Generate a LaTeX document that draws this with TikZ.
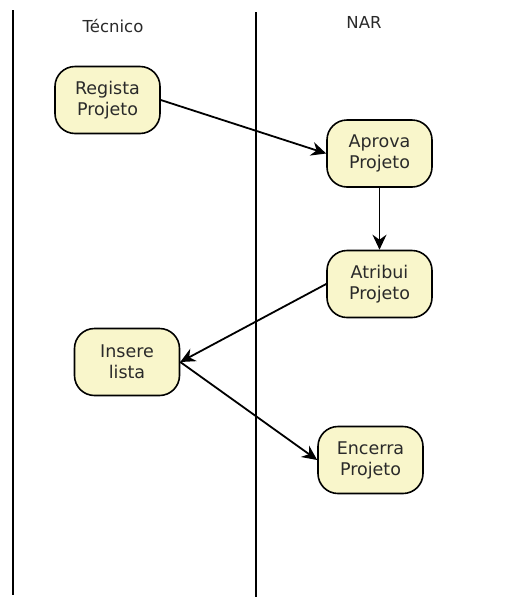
\documentclass[tikz,border=0pt]{standalone}
\usepackage{fontspec}
\setmainfont{DejaVu Sans}
\usetikzlibrary{arrows.meta}
\definecolor{boxfill}{HTML}{F9F6CB}
\definecolor{txt}{HTML}{2A2A2A}
\tikzset{
  act/.style={draw=black, fill=boxfill, line width=1.6pt, rounded corners=20pt,
    minimum width=105pt, minimum height=67pt, align=center, text=txt,
    font=\fontsize{17.5}{21}\selectfont, inner sep=0pt},
  lane/.style={draw=black, line width=1.6pt},
  lbl/.style={text=txt, font=\fontsize{16.5}{18}\selectfont},
  flow/.style={draw=black, line width=1.8pt, -{Stealth[length=15pt,width=14pt,inset=5pt]}}
}
\begin{document}
\begin{tikzpicture}[x=1pt,y=-1pt]
\useasboundingbox (0,0) rectangle (512,598);
\coordinate (l1t) at (13,10);
\coordinate (l1b) at (13,595);
\coordinate (l2t) at (256,12);
\coordinate (l2b) at (256,597);
\draw[lane] (l1t) -- (l1b);
\draw[lane] (l2t) -- (l2b);
\node[lbl] (tec) at (113,26) {Técnico};
\node[lbl] (nar) at (364,22) {NAR};
\node[act] (reg) at (107.5,100) {Regista\\Projeto};
\node[act] (apr) at (379.5,153.5) {Aprova\\Projeto};
\node[act] (atr) at (379.5,284) {Atribui\\Projeto};
\node[act] (ins) at (127,362) {Insere\\lista};
\node[act] (enc) at (370.5,460) {Encerra\\Projeto};
\draw[flow] (reg.east) -- (apr.west);
\draw[flow] (apr.south) -- (atr.north);
\draw[flow] (atr.west) -- (ins.east);
\draw[flow] (ins.east) -- (enc.west);
\end{tikzpicture}
\end{document}
